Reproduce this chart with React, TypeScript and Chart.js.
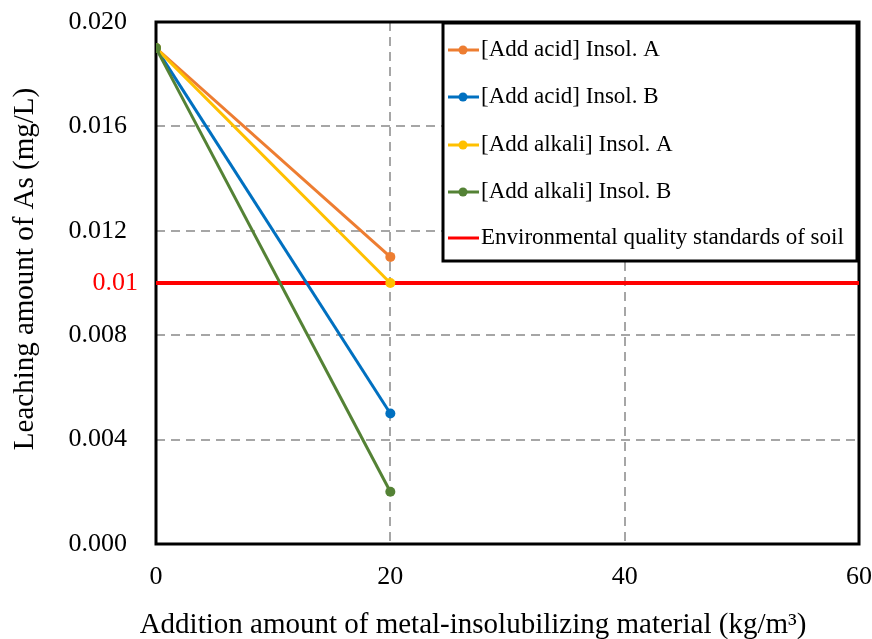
import React, { useEffect, useRef } from "react";
import Chart from "chart.js/auto";

const xValues = [0, 20];
const acidA = [0.019, 0.011];
const acidB = [0.019, 0.005];
const alkaliA = [0.019, 0.01];
const alkaliB = [0.019, 0.002];
const standardX = [0, 60];
const standardY = [0.01, 0.01];
const seriesLabels = [
  "[Add acid] Insol. A",
  "[Add acid] Insol. B",
  "[Add alkali] Insol. A",
  "[Add alkali] Insol. B",
  "Environmental quality standards of soil",
];
const seriesColors = ["#ED7D31", "#0070C0", "#FFC000", "#548235", "#FF0000"];
const standardLabel = "0.01";
const xTitle = "Addition amount of metal-insolubilizing material (kg/m³)";
const yTitle = "Leaching amount of As (mg/L)";
const FONT = "'Liberation Serif', 'Times New Roman', serif";

const toPts = (xs: number[], ys: number[]) => xs.map((x, i) => ({ x, y: ys[i] }));

const framePlugin = {
  id: "frame",
  beforeDatasetsDraw(chart: any) {
    const { ctx, chartArea } = chart;
    ctx.save();
    ctx.strokeStyle = "#000";
    ctx.lineWidth = 3;
    ctx.strokeRect(chartArea.left, chartArea.top, chartArea.right - chartArea.left, chartArea.bottom - chartArea.top);
    const y = chart.scales.y.getPixelForValue(standardY[0]);
    ctx.fillStyle = "#FF0000";
    ctx.font = `26px ${FONT}`;
    ctx.textAlign = "right";
    ctx.textBaseline = "middle";
    ctx.fillText(standardLabel, chartArea.left - 18, y);
    ctx.fillStyle = "#000";
    ctx.font = `29px ${FONT}`;
    ctx.textAlign = "center";
    ctx.fillText(xTitle, 473, 625);
    ctx.translate(25, 269);
    ctx.rotate(-Math.PI / 2);
    ctx.fillText(yTitle, 0, 0);
    ctx.restore();
  },
};

const legendPlugin = {
  id: "boxLegend",
  afterDraw(chart: any) {
    const { ctx } = chart;
    const left = 443, top = 23, right = 857, bottom = 261;
    ctx.save();
    ctx.fillStyle = "#fff";
    ctx.fillRect(left, top, right - left, bottom - top);
    ctx.strokeStyle = "#000";
    ctx.lineWidth = 3;
    ctx.strokeRect(left, top, right - left, bottom - top);
    const rows = [50, 97, 145, 192, 238];
    chart.data.datasets.forEach((ds: any, i: number) => {
      const y = rows[i];
      ctx.strokeStyle = ds.borderColor;
      ctx.lineWidth = 3;
      ctx.beginPath();
      ctx.moveTo(448, y);
      ctx.lineTo(479, y);
      ctx.stroke();
      if (ds.pointRadius > 0) {
        ctx.fillStyle = ds.borderColor;
        ctx.beginPath();
        ctx.arc(463, y, 4.5, 0, Math.PI * 2);
        ctx.fill();
      }
      ctx.fillStyle = "#000";
      ctx.font = `23px ${FONT}`;
      ctx.textAlign = "left";
      ctx.textBaseline = "middle";
      ctx.fillText(ds.label, 481, y);
    });
    ctx.restore();
  },
};

export default function App() {
  const ref = useRef<HTMLCanvasElement>(null);
  useEffect(() => {
    document.body.style.margin = "0";
    const orders = [4, 3, 2, 1, 5];
    const ys = [acidA, acidB, alkaliA, alkaliB];
    const datasets: any[] = ys.map((v, i) => ({
      label: seriesLabels[i],
      data: toPts(xValues, v),
      borderColor: seriesColors[i],
      backgroundColor: seriesColors[i],
      borderWidth: 3,
      pointRadius: 5,
      pointBorderWidth: 0,
      order: orders[i],
    }));
    datasets.push({
      label: seriesLabels[4],
      data: toPts(standardX, standardY),
      borderColor: seriesColors[4],
      backgroundColor: seriesColors[4],
      borderWidth: 4,
      pointRadius: 0,
      order: orders[4],
    });
    const chart = new Chart(ref.current!, {
      type: "line",
      data: { datasets },
      options: {
        animation: false,
        responsive: false,
        layout: { padding: { top: 22, right: 13, left: 0, bottom: 0 } },
        plugins: { legend: { display: false }, tooltip: { enabled: false } },
        scales: {
          x: {
            type: "linear",
            min: 0,
            max: 60,
            ticks: { stepSize: 20, color: "#000", font: { family: FONT, size: 26 }, padding: 18 },
            grid: {
              drawTicks: false,
              lineWidth: 2,
              color: (c: any) => (c.tick && (c.tick.value === 0 || c.tick.value === 60) ? "rgba(0,0,0,0)" : "#A6A6A6"),
            },
            border: { display: false, dash: [9, 6] },
            afterFit: (s: any) => {
              s.height = 95;
              s.paddingLeft = 0;
              s.paddingRight = 0;
            },
          },
          y: {
            type: "linear",
            min: 0,
            max: 0.02,
            ticks: {
              stepSize: 0.004,
              color: "#000",
              font: { family: FONT, size: 26 },
              padding: 29,
              callback: (v: any) => Number(v).toFixed(3),
            },
            grid: {
              drawTicks: false,
              lineWidth: 2,
              color: (c: any) =>
                c.tick && (Math.abs(c.tick.value) < 1e-9 || Math.abs(c.tick.value - 0.02) < 1e-9) ? "rgba(0,0,0,0)" : "#A6A6A6",
            },
            border: { display: false, dash: [9, 6] },
            afterFit: (s: any) => {
              s.width = 156;
              s.paddingTop = 0;
              s.paddingBottom = 0;
            },
          },
        },
      } as any,
      plugins: [framePlugin, legendPlugin],
    });
    return () => chart.destroy();
  }, []);
  return <canvas ref={ref} width={872} height={639} style={{ display: "block" }} />;
}
